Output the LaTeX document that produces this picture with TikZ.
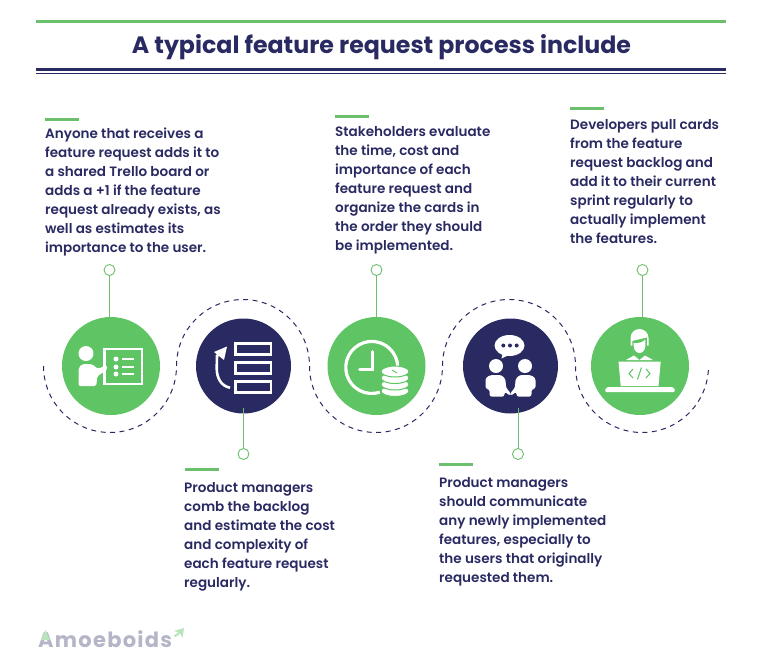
\documentclass[tikz,border=0pt]{standalone}
\usepackage{fontspec}
\setmainfont{Poppins}[UprightFont=* SemiBold,BoldFont=* Bold]
\usepackage{tikz}
\usetikzlibrary{positioning}

\definecolor{leaf}{RGB}{95,196,100}
\definecolor{rule}{RGB}{108,191,108}
\definecolor{navy}{RGB}{42,42,98}

\tikzset{
  stepgreen/.style={circle,fill=leaf,minimum size=98pt,inner sep=0pt},
  stepnavy/.style={circle,fill=navy,minimum size=95pt,inner sep=0pt},
  dotmark/.style={circle,draw=rule,fill=white,line width=0.9pt,minimum size=11pt,inner sep=0pt},
  link/.style={draw=rule,line width=1pt},
  bar/.style={draw=rule,line width=3pt},
  wave/.style={draw=navy,line width=1pt,dash pattern=on 5pt off 4.5pt},
  note/.style={align=left,anchor=north west,inner sep=0pt,text=navy,font=\fontsize{13.55}{19}\selectfont},
}

\begin{document}
\begin{tikzpicture}[x=1pt,y=-1pt]

\useasboundingbox (0,0) rectangle (764,670);

% Parameters
\def\waveR{66.5}
\def\midY{366}

% Title and rules
\draw[rule,line width=3pt] (36,21) -- (726,21);
\node[text=navy,font=\fontsize{23.7}{26}\selectfont\bfseries] (title) at (381.5,47) {A typical feature request process include};
\draw[navy,line width=3.5pt] (36,69.5) -- (726,69.5);
\draw[navy,line width=1pt] (36,73) -- (726,73);

% Dashed wave
\draw[wave] (43.5,\midY) arc[start angle=180,end angle=0,radius=\waveR]
  arc[start angle=180,end angle=360,radius=\waveR]
  arc[start angle=180,end angle=0,radius=\waveR]
  arc[start angle=180,end angle=360,radius=\waveR]
  arc[start angle=180,end angle=0,radius=\waveR];

% Steps
\node[stepgreen] (stepa) at (111,\midY) {};
\node[stepnavy] (stepb) at (243.5,\midY) {};
\node[stepgreen] (stepc) at (376.5,\midY) {};
\node[stepnavy] (stepd) at (510.5,\midY) {};
\node[stepgreen] (stepe) at (640,\midY) {};

% Markers and links
\node[dotmark] (dota) at (109.5,270) {};
\node[dotmark] (dotb) at (243.5,454) {};
\node[dotmark] (dotc) at (376.5,270) {};
\node[dotmark] (dotd) at (518,454) {};
\node[dotmark] (dote) at (642.5,270) {};
\coordinate (linka) at (109.5,318);
\coordinate (linkb) at (243.5,408);
\coordinate (linkd) at (518,408);
\coordinate (linke) at (642.5,318);
\draw[link] (dota) -- (linka);
\draw[link] (dotb) -- (linkb);
\draw[link] (dotc) -- (stepc);
\draw[link] (dotd) -- (linkd);
\draw[link] (dote) -- (linke);

% Icon a: presenter and board
\fill[white] (86,353.5) circle (7.5);
\fill[white,rounded corners=2pt] (78.5,386) -- (78.5,368) -- (82,364) -- (92,364) -- (98,369) -- (106,365) -- (108,369) -- (97,376.5) -- (96.5,386) -- cycle;
\draw[white,line width=2.6pt] (104.6,349) rectangle (142,384);
\foreach \y in {359,367,374} {
  \fill[white] (116,\y) circle (2.5);
  \draw[white,line width=1.5pt] (122,\y) -- (134,\y);
}

% Icon b: backlog rows and turn arrow
\foreach \y in {342,361,380} {
  \draw[white,line width=2.6pt] (235.3,\y+1.3) rectangle (271,\y+12.7);
}
\draw[white,line width=2.6pt] (230,387.7) .. controls (221,386) and (216.7,378) .. (216.7,368) -- (217,356) -- (219,354);
\fill[white] (214,352) -- (227,346.5) -- (224,360) -- cycle;

% Icon c: clock and coins
\draw[white,line width=3.2pt] (379.8,392.2) arc[start angle=72,end angle=360,radius=26];
\draw[white,line width=2.6pt,line cap=round] (372.7,351.5) -- (372.7,369.5) -- (359.5,369.5);
\foreach \y in {391,384.5,378,371.5} {
  \filldraw[fill=white,draw=leaf,line width=1pt] (395,\y) ellipse (14 and 5.5);
}
\draw[leaf,line width=0.9pt] (392,370) -- (397,373);

% Icon d: two people talking
\fill[white] (509.5,345.5) ellipse (15 and 10.5);
\fill[white] (503,352) -- (511,354) -- (501.5,358.5) -- cycle;
\foreach \x in {503.3,510,516.7} {
  \fill[navy] (\x,345.5) circle (2);
}
\foreach \s in {1,-1} {
  \begin{scope}[shift={(510.5,0)},xscale=\s]
  \fill[white] (-14.5,366) circle (7);
  \fill[white,rounded corners=2.5pt] (-25,389) -- (-25,378) -- (-20,375) -- (-9,375) -- (-5,379) -- (-4.5,388) -- (0,392.5) -- (0,396) -- (-6,391.5) -- (-6,396.7) -- (-21,396.7) -- (-21,389) -- cycle;
  \end{scope}
}

% Icon e: developer at laptop
\fill[white] (630.5,338) arc[start angle=180,end angle=360,radius=9] -- (648.5,345.5) -- (630.5,345.5) -- cycle;
\fill[leaf] (632.3,341) -- (647,337.5) -- (646.7,347) -- (632.3,347) -- cycle;
\fill[white] (633.7,343) .. controls (639,343.5) and (643,342) .. (645.3,339.5) -- (645.3,346) .. controls (645.3,350.5) and (642,353) .. (639.5,353) .. controls (637,353) and (633.7,350.5) .. (633.7,346) -- cycle;
\fill[white] (626,360) -- (634,355.5) -- (639.5,360) -- (645,355.5) -- (653,360) -- cycle;
\fill[white] (618.5,361.7) -- (660.7,361.7) -- (658.5,386) -- (620.7,386) -- cycle;
\draw[leaf,line width=1pt] (633,369) -- (629,373.5) -- (633,378);
\draw[leaf,line width=1pt] (646,369) -- (650,373.5) -- (646,378);
\draw[leaf,line width=1pt] (641.5,367.5) -- (637.5,379.5);
\fill[white,rounded corners=1.5pt] (605,392) -- (605,389.5) -- (607,387) -- (673,387) -- (675,389.5) -- (675,392) -- cycle;

% Notes
\draw[bar] (45,119) -- (79,119);
\node[note] (notea) at (45,127.5) {Anyone that receives a\\feature request adds it to\\a shared Trello board or\\adds a +1 if the feature\\request already exists, as\\well as estimates its\\importance to the user.};
\draw[bar] (335,116) -- (369,116);
\node[note] (notec) at (335,126) {Stakeholders evaluate\\the time, cost and\\importance of each\\feature request and\\organize the cards in\\the order they should\\be implemented.};
\draw[bar] (570,108) -- (604,108);
\node[note] (notee) at (570,119) {Developers pull cards\\from the feature\\request backlog and\\add it to their current\\sprint regularly to\\actually implement\\the features.};
\draw[bar] (185,469) -- (219,469);
\node[note] (noteb) at (184,482) {Product managers\\comb the backlog\\and estimate the cost\\and complexity of\\each feature request\\regularly.};
\draw[bar] (439,464) -- (473,464);
\node[note] (noted) at (439,477) {Product managers\\should communicate\\any newly implemented\\features, especially to\\the users that originally\\requested them.};

% Logo
\node[anchor=base west,inner sep=0pt,text=navy!35,font=\fontsize{21}{24}\selectfont\bfseries\addfontfeature{LetterSpace=6}] (logo) at (38,647) {Amoeboids};
\fill[leaf!45] (45.5,630) -- (41,640) -- (50,640) -- cycle;
\fill[leaf!45] (174,631) -- (184,628) -- (182.5,638) -- (180.5,633.5) -- (175.5,637) -- (174,635.5) -- (178.5,632.3) -- cycle;

\end{tikzpicture}
\end{document}
